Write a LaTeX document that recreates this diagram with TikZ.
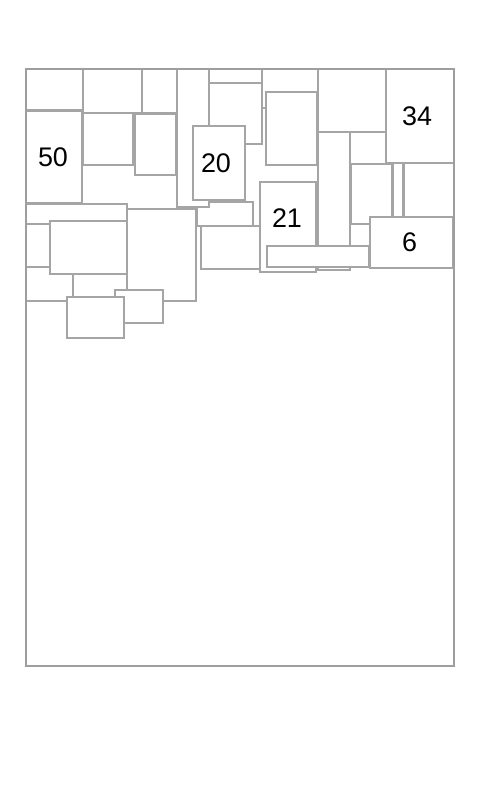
\documentclass[tikz,border=0pt]{standalone}
\usepackage{fontspec}
\setmainfont{Liberation Sans}
\definecolor{edge}{RGB}{165,165,165}
\definecolor{frameedge}{RGB}{158,158,158}
\begin{document}
\begin{tikzpicture}[x=1bp,y=-1bp,
  box/.style={draw=edge,fill=white,line width=1.1bp},
  frm/.style={draw=frameedge,line width=1.3bp},
  lbl/.style={inner sep=0pt,font=\fontsize{27}{30}\selectfont}]
\useasboundingbox (0,0) rectangle (480,800);
\fill[white] (0,0) rectangle (480,800);
% cells
\draw[box] (26,69) rectangle (83,110);
\draw[box] (26,111) rectangle (82,203);
\draw[box] (83,69) rectangle (142,113);
\draw[box] (142,69) rectangle (177,113);
\draw[box] (83,113) rectangle (133,165);
\draw[box] (135,114) rectangle (176,175);
\draw[box] (197,202) rectangle (253,226);
\draw[box] (177,69) rectangle (209,207);
\draw[box] (209,69) rectangle (262,100);
\draw[box] (209,83) rectangle (262,144);
\draw[box] (262,69) rectangle (318,108);
\draw[box] (266,92) rectangle (317,165);
\draw[box] (193,126) rectangle (245,200);
\draw[box] (318,69) rectangle (386,132);
\draw[box] (386,69) rectangle (454,163);
\draw[box] (350,132) rectangle (386,250);
\draw[box] (351,164) rectangle (392,224);
\draw[box] (393,163) rectangle (403,217);
\draw[box] (404,163) rectangle (454,217);
\draw[box] (318,132) rectangle (350,270);
\draw[box] (26,204) rectangle (127,301);
\draw[box] (26,224) rectangle (60,267);
\draw[box] (73,260) rectangle (127,301);
\draw[box] (50,221) rectangle (127,274);
\draw[box] (127,209) rectangle (196,301);
\draw[box] (115,290) rectangle (163,323);
\draw[box] (67,297) rectangle (124,338);
\draw[box] (201,226) rectangle (260,269);
\draw[box] (260,182) rectangle (316,272);
\draw[box] (267,246) rectangle (369,267);
\draw[box] (370,217) rectangle (453,268);
% frame
\draw[frm] (26,69) rectangle (454,666);
% labels
\node[lbl] (l50) at (53,157) {50};
\node[lbl] (l20) at (216,163) {20};
\node[lbl] (l34) at (417,116) {34};
\node[lbl] (l21) at (287,218) {21};
\node[lbl] (l6) at (409.5,242.5) {6};
\end{tikzpicture}
\end{document}
